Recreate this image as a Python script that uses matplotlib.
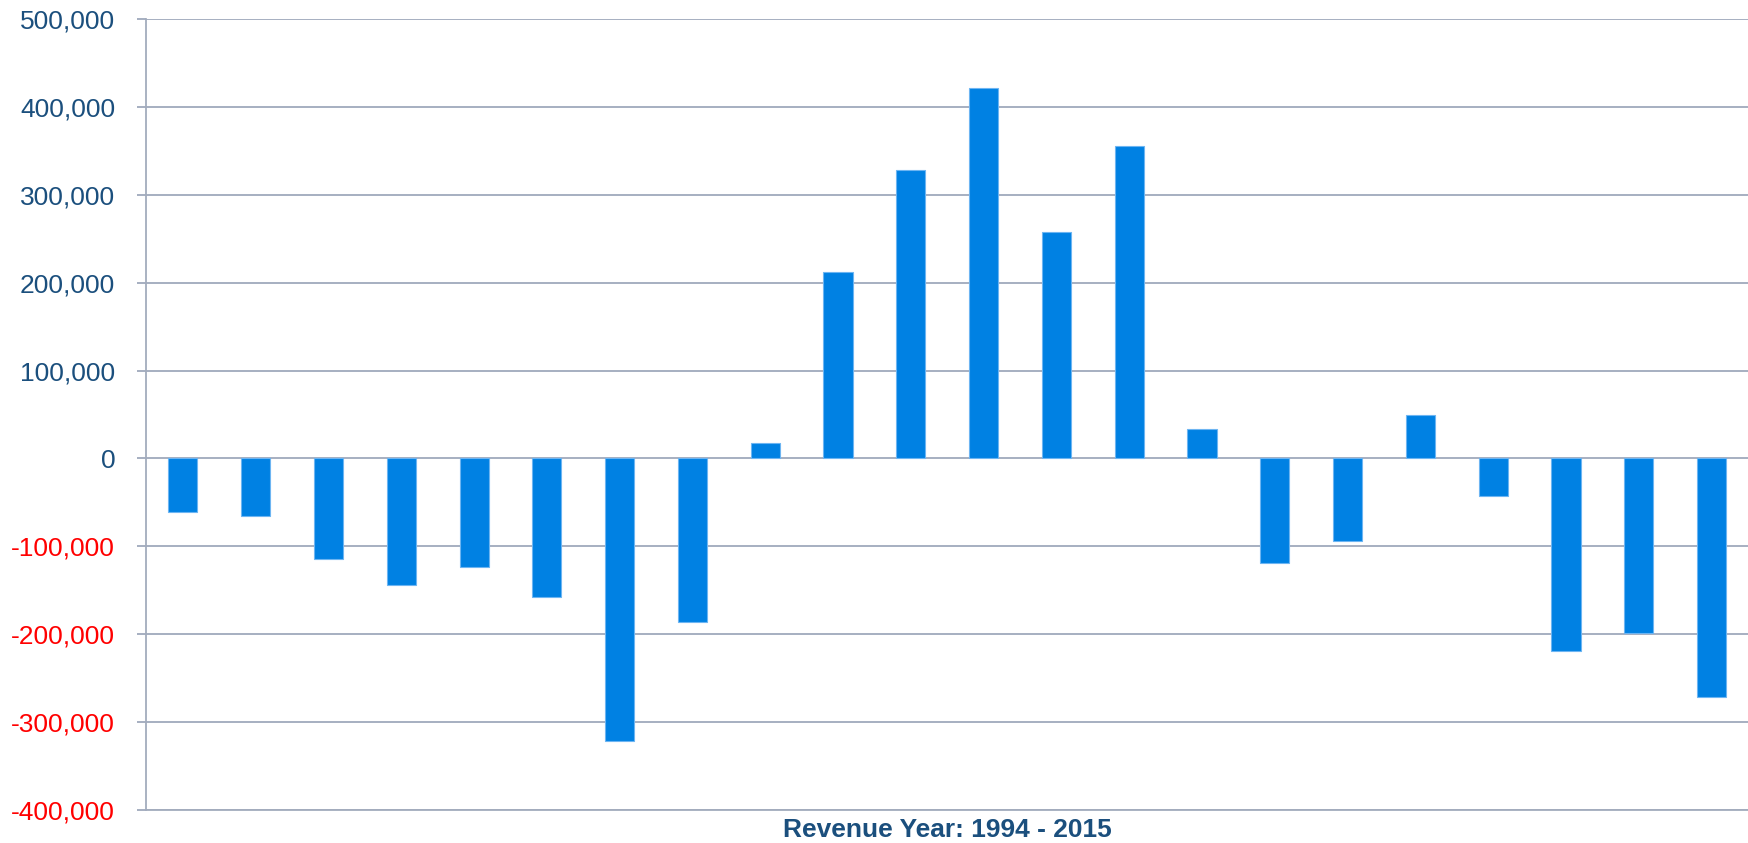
import matplotlib.pyplot as plt
from matplotlib.ticker import FuncFormatter


years = list(range(1994, 2016))
revenue_change = [-61000, -65000, -114000, -144000, -124000, -158000,
                  -322000, -186000, 18000, 212000, 328000, 421000,
                  258000, 356000, 33000, -119000, -94000, 49000,
                  -43000, -219000, -199000, -271000]
y_ticks = list(range(-400000, 500001, 100000))

BAR_COLOR = "#0081E3"
GRID_COLOR = "#8E9AB0"
BLUE_TEXT = "#1B4F7D"
RED_TEXT = "#FF0000"


def thousands(value, pos):
    return "{:,.0f}".format(value)


def plot_revenue_chart():
    plt.rcParams['font.family'] = ['Liberation Sans', 'DejaVu Sans']

    fig = plt.figure(figsize=(17.48, 8.43), dpi=100)
    ax = fig.add_axes([0.0838, 0.0391, 0.9162, 0.9384])

    x = list(range(len(years)))
    ax.bar(x, revenue_change, width=0.4, color=BAR_COLOR,
           edgecolor="#6DB5F2", linewidth=0.8, zorder=3)

    ax.set_xlim(-0.5, len(years) - 0.5)
    ax.set_ylim(y_ticks[0], y_ticks[-1])
    ax.set_yticks(y_ticks)
    ax.yaxis.set_major_formatter(FuncFormatter(thousands))
    ax.set_xticks([])

    ax.grid(axis='y', color=GRID_COLOR, linewidth=1.1, zorder=0)
    ax.tick_params(axis='y', direction='out', length=6.5, width=1.1,
                   color=GRID_COLOR, pad=16, labelsize=19)

    for label, value in zip(ax.get_yticklabels(), y_ticks):
        label.set_color(RED_TEXT if value < 0 else BLUE_TEXT)

    for side in ['top', 'right']:
        ax.spines[side].set_visible(False)
    ax.spines['left'].set_color("#A3ACBD")
    ax.spines['left'].set_linewidth(1.3)
    ax.spines['bottom'].set_color("#A3ACBD")
    ax.spines['bottom'].set_linewidth(1.3)

    ax.set_xlabel("Revenue Year: 1994 - 2015", fontsize=19,
                  fontweight='bold', color=BLUE_TEXT, labelpad=6)

    plt.savefig('out.png', dpi=100)
    plt.clf()

    return None


def main():
    plot_revenue_chart()

    return None


if __name__ == "__main__":
    main()
